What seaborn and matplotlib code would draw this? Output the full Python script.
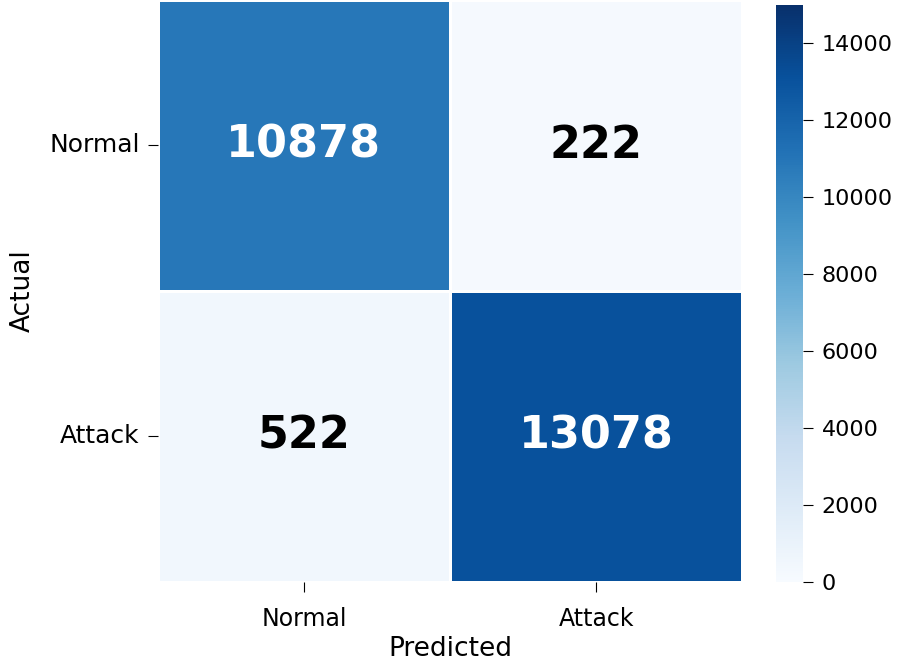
import numpy as np
import pandas as pd
import matplotlib
matplotlib.use("Agg")
import matplotlib.pyplot as plt
import seaborn as sns

# ===================== DATA =======================
labels = ["Normal", "Attack"]
row_normal = [10878, 222]
row_attack = [522, 13078]

cm = pd.DataFrame([row_normal, row_attack], index=labels, columns=labels)

# ===================== PLOT =======================
fig = plt.figure(figsize=(9.12, 6.68), dpi=100)
ax = fig.add_axes([0.173, 0.129, 0.641, 0.871])
cax = fig.add_axes([0.851, 0.129, 0.030, 0.864])

sns.heatmap(cm, annot=True, fmt="d", cmap="Blues", vmin=0, vmax=15000,
            linewidths=2, linecolor="white",
            annot_kws={"size": 32, "weight": "bold"},
            ax=ax, cbar_ax=cax)

# teks gelap jadi hitam pekat
for t in ax.texts:
    if t.get_color() != "w":
        t.set_color("black")

ax.set_xlabel("Predicted", fontsize=19, labelpad=4)
ax.set_ylabel("Actual", fontsize=19, labelpad=10)
ax.tick_params(axis="both", labelsize=17, length=7, pad=6)
ax.tick_params(axis="x", pad=11)
ax.tick_params(axis="y", labelsize=18)
ax.set_yticklabels(labels, rotation=0)
cax.tick_params(labelsize=16, length=7, pad=6)

fig.savefig("out.png", dpi=100)
